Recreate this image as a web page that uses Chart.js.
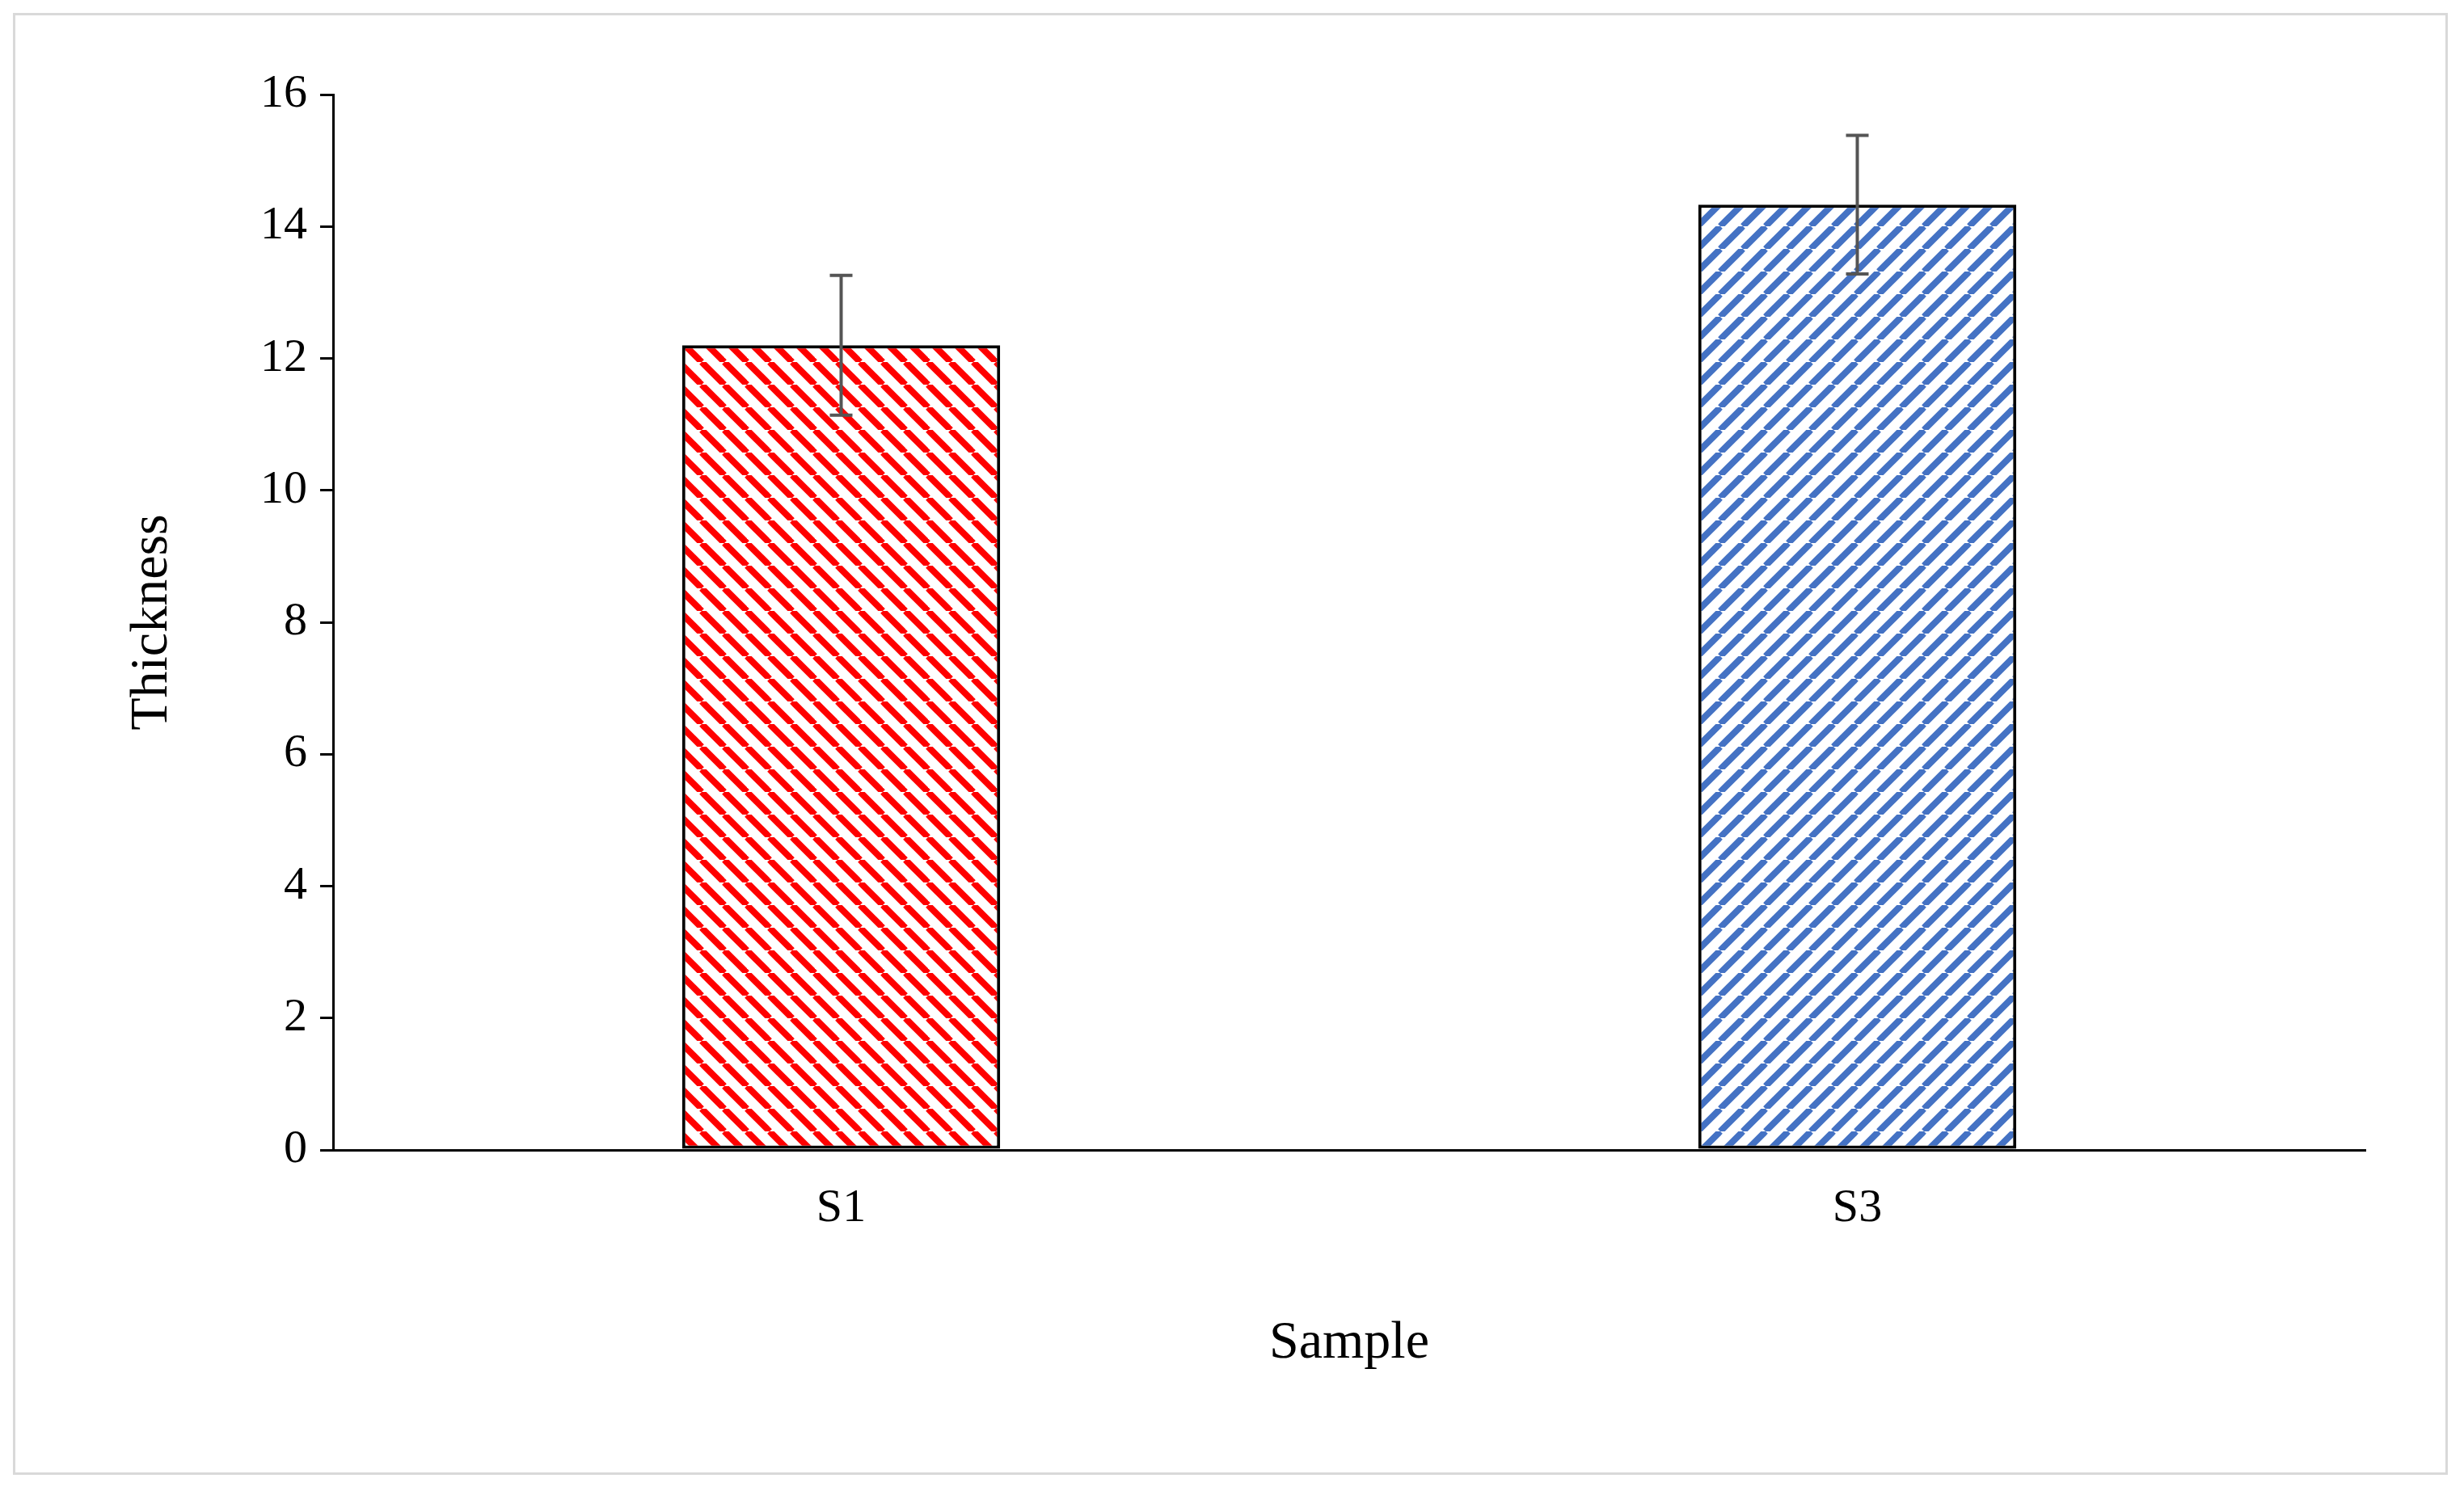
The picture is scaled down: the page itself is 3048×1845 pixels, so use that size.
<!DOCTYPE html>
<html>
<head>
<meta charset="utf-8">
<script src="https://cdn.jsdelivr.net/npm/chart.js@4.4.1/dist/chart.umd.min.js"></script>
<style>
  body { margin: 0; background: #fff; }
  #frame { position: absolute; left: 16px; top: 16px; width: 3012px; height: 1809px; border: 3px solid #d9d9d9; box-sizing: border-box; }
  #wrap { position: absolute; left: 0; top: 0; width: 3048px; height: 1845px; }
</style>
</head>
<body>
<div id="frame"></div>
<div id="wrap"><canvas id="chart" width="3048" height="1845"></canvas></div>
<script>
const categories = ["S1", "S3"];
const thickness = [12.2, 14.33];
const errors = [1.06, 1.05];
const yTicks = [0, 2, 4, 6, 8, 10, 12, 14, 16];

const serif = "'Liberation Serif', 'DejaVu Serif', serif";

// diagonal stripe fill
function stripes(color, down) {
    const s = 28;
    const c = document.createElement("canvas");
    c.width = s; c.height = s;
    const g = c.getContext("2d");
    g.fillStyle = "#fff";
    g.fillRect(0, 0, s, s);
    g.strokeStyle = color;
    g.lineWidth = 8;
    for (let k = -1; k <= 1; k++) {
        g.beginPath();
        if (down) {
            g.moveTo(k * s, 0);
            g.lineTo(k * s + s, s);
        } else {
            g.moveTo(k * s, s);
            g.lineTo(k * s + s, 0);
        }
        g.stroke();
    }
    return g.createPattern(c, "repeat");
}

const errorBars = {
    id: "errorBars",
    afterDatasetsDraw(chart) {
        const ctx = chart.ctx;
        const y = chart.scales.y;
        const meta = chart.getDatasetMeta(0);
        ctx.save();
        ctx.strokeStyle = "#555";
        ctx.lineWidth = 4;
        meta.data.forEach((bar, i) => {
            const hi = y.getPixelForValue(thickness[i] + errors[i]);
            const lo = y.getPixelForValue(thickness[i] - errors[i]);
            ctx.beginPath();
            ctx.moveTo(bar.x, hi); ctx.lineTo(bar.x, lo);
            ctx.moveTo(bar.x - 14, hi); ctx.lineTo(bar.x + 14, hi);
            ctx.moveTo(bar.x - 14, lo); ctx.lineTo(bar.x + 14, lo);
            ctx.stroke();
        });
        ctx.restore();
    }
};

new Chart(document.getElementById("chart"), {
    type: "bar",
    data: {
        labels: categories,
        datasets: [{
            data: thickness,
            backgroundColor: [stripes("#ff0000", true), stripes("#4472c4", false)],
            borderColor: "#000",
            borderWidth: 4,
            borderSkipped: false,
            categoryPercentage: 1,
            barPercentage: 0.313
        }]
    },
    options: {
        responsive: false,
        animation: false,
        devicePixelRatio: 1,
        layout: { padding: { top: 117, right: 122, left: 0, bottom: 0 } },
        plugins: { legend: { display: false }, tooltip: { enabled: false } },
        scales: {
            x: {
                afterFit(s) { s.height = 422; },
                grid: { display: false },
                border: { color: "#000", width: 3 },
                ticks: { color: "#000", font: { family: serif, size: 58 }, padding: 30 },
                title: { display: true, text: "Sample", color: "#000", font: { family: serif, size: 66 }, padding: { top: 0, bottom: 143 } }
            },
            y: {
                min: 0, max: 16,
                afterFit(s) { s.width = 412; },
                afterBuildTicks(s) { s.ticks = yTicks.map(v => ({ value: v })); },
                grid: { drawOnChartArea: false, tickLength: 16, color: "#000", lineWidth: 3 },
                border: { color: "#000", width: 3 },
                ticks: { color: "#000", font: { family: serif, size: 58 }, padding: 16 },
                title: { display: true, text: "Thickness", color: "#000", font: { family: serif, size: 66 }, padding: { top: 149, bottom: 0 } }
            }
        }
    },
    plugins: [errorBars]
});
</script>
</body>
</html>
